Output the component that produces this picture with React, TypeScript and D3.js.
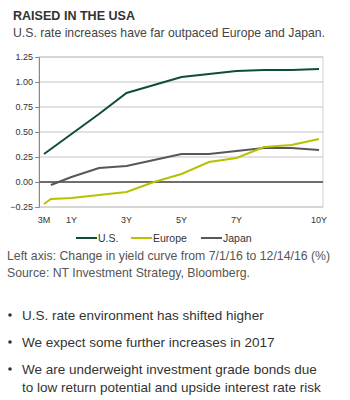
import React, { useEffect, useRef } from 'react'
import * as d3 from 'd3'

// tenor in years (first point sits at the "3M" tick)
const tenors = [0, 0.25, 1, 2, 3, 4, 5, 6, 7, 8, 9, 10]
const usValues = [0.28, 0.33, 0.48, 0.68, 0.89, 0.97, 1.05, 1.08, 1.11, 1.12, 1.12, 1.13]
const europeValues = [-0.22, -0.17, -0.16, -0.13, -0.1, 0.0, 0.08, 0.2, 0.24, 0.35, 0.37, 0.43]
const japanValues = [null, -0.03, 0.05, 0.14, 0.16, 0.22, 0.28, 0.28, 0.31, 0.34, 0.34, 0.32]
const xTickValues = [0, 1, 3, 5, 7, 10]
const xTickLabels = ['3M', '1Y', '3Y', '5Y', '7Y', '10Y']
const yTicks = [-0.25, 0, 0.25, 0.5, 0.75, 1, 1.25]

const seriesList = [
  { name: 'U.S.', values: usValues, color: '#0f4d36' },
  { name: 'Europe', values: europeValues, color: '#b8c100' },
  { name: 'Japan', values: japanValues, color: '#56565e' },
]

const bullets = [
  ['U.S. rate environment has shifted higher'],
  ['We expect some further increases in 2017'],
  ['We are underweight investment grade bonds due', 'to low return potential and upside interest rate risk'],
]

export default function App() {
  const svgRef = useRef<SVGSVGElement>(null)

  useEffect(() => {
    const svg = d3.select(svgRef.current)
    svg.selectAll('*').remove()
    const font = 'Arial, "Liberation Sans", sans-serif'

    const left = 39, right = 323, top = 57, bottom = 207
    const x = d3.scaleLinear().domain([0, 10]).range([44, 319])
    const y = d3.scaleLinear().domain([-0.25, 1.25]).range([bottom, top])

    // title
    svg.append('text').attr('x', 13).attr('y', 20)
      .attr('font-family', font).attr('font-size', 13.5).attr('font-weight', 'bold')
      .attr('fill', '#333').attr('textLength', 122).attr('lengthAdjust', 'spacingAndGlyphs')
      .text('RAISED IN THE USA')
    svg.append('text').attr('x', 13).attr('y', 37)
      .attr('font-family', font).attr('font-size', 13)
      .attr('fill', '#444').attr('textLength', 312).attr('lengthAdjust', 'spacingAndGlyphs')
      .text('U.S. rate increases have far outpaced Europe and Japan.')

    // frame + grid
    svg.append('rect').attr('x', left).attr('y', top)
      .attr('width', right - left).attr('height', bottom - top)
      .attr('fill', 'none').attr('stroke', '#d0d0d0')
    svg.append('g').selectAll('line').data(yTicks.filter(d => d !== 0)).join('line')
      .attr('x1', left).attr('x2', right)
      .attr('y1', d => y(d)).attr('y2', d => y(d))
      .attr('stroke', '#c4c4c4')

    // y axis
    const yAxis = svg.append('g')
      .attr('transform', `translate(${left},0)`)
      .call(d3.axisLeft(y).tickValues(yTicks).tickFormat(d3.format('.2f')).tickSize(4).tickPadding(2))
    yAxis.selectAll('text').attr('font-family', font).attr('font-size', 9).attr('fill', '#333')
    yAxis.selectAll('line, path').attr('stroke', '#888')

    // x labels
    svg.append('g').selectAll('text').data(xTickValues).join('text')
      .attr('x', d => x(d)).attr('y', 223)
      .attr('text-anchor', 'middle')
      .attr('font-family', font).attr('font-size', 9).attr('fill', '#333')
      .text((d, i) => xTickLabels[i])

    // zero line
    svg.append('line').attr('x1', left).attr('x2', right)
      .attr('y1', y(0)).attr('y2', y(0))
      .attr('stroke', '#6e6e6e').attr('stroke-width', 2)

    // lines
    seriesList.slice().reverse().forEach(s => {
      const line = d3.line<number | null>()
        .defined(d => d !== null)
        .x((d, i) => x(tenors[i]))
        .y(d => y(d as number))
      svg.append('path').datum(s.values)
        .attr('fill', 'none').attr('stroke', s.color)
        .attr('stroke-width', 2).attr('d', line)
    })

    // legend
    const legendX = [76, 131, 201]
    seriesList.forEach((s, i) => {
      const g = svg.append('g').attr('transform', `translate(${legendX[i]},238)`)
      g.append('line').attr('x1', 0).attr('x2', 21).attr('stroke', s.color).attr('stroke-width', 2)
      g.append('text').attr('x', 22).attr('y', 4)
        .attr('font-family', font).attr('font-size', 10.5).attr('fill', '#333')
        .text(s.name)
    })

    // notes
    svg.append('text').attr('x', 7).attr('y', 260)
      .attr('font-family', font).attr('font-size', 12.2).attr('fill', '#555')
      .attr('textLength', 323).attr('lengthAdjust', 'spacingAndGlyphs')
      .text('Left axis: Change in yield curve from 7/1/16 to 12/14/16 (%)')
    svg.append('text').attr('x', 7).attr('y', 277)
      .attr('font-family', font).attr('font-size', 12.2).attr('fill', '#555')
      .attr('textLength', 243).attr('lengthAdjust', 'spacingAndGlyphs')
      .text('Source: NT Investment Strategy, Bloomberg.')

    // bullets
    const bulletY = [315, 342, 369]
    bullets.forEach((lines, i) => {
      svg.append('circle').attr('cx', 10).attr('cy', bulletY[i]).attr('r', 1.8).attr('fill', '#333')
      lines.forEach((t, j) => {
        svg.append('text').attr('x', 22).attr('y', bulletY[i] + 5 + j * 18)
          .attr('font-family', font).attr('font-size', 13.5).attr('fill', '#333')
          .text(t)
      })
    })
  }, [])

  return (
    <svg ref={svgRef} width={350} height={400}
      style={{ position: 'absolute', left: 0, top: 0, background: '#fff' }} />
  )
}
